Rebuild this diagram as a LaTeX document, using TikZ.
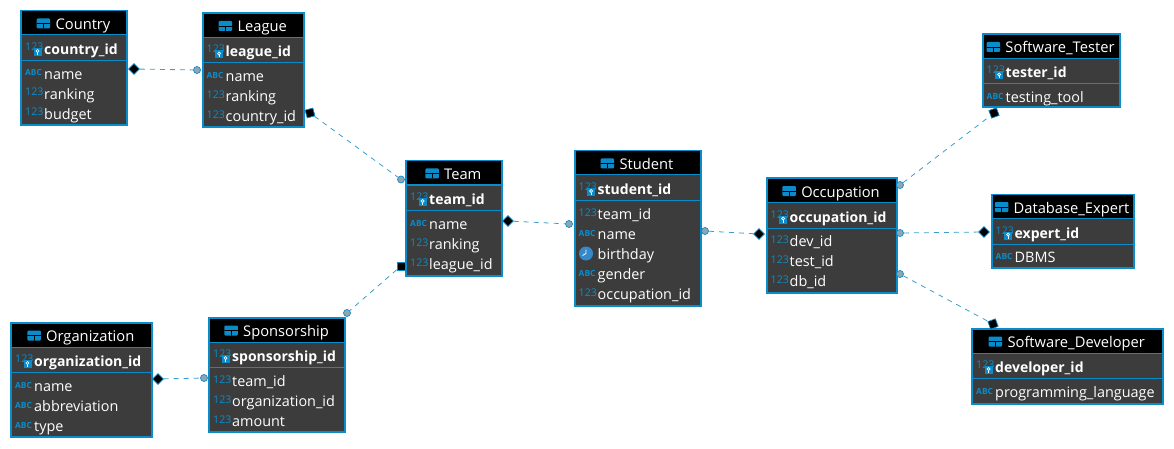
\documentclass[tikz,border=0pt]{standalone}
\usepackage{fontspec}
\setmainfont{Open Sans}
\usetikzlibrary{positioning,shapes.geometric}
\definecolor{erblue}{HTML}{0A8CCB}
\definecolor{erline}{HTML}{3A9FC8}
\definecolor{erbody}{HTML}{3C3C3C}
\definecolor{erdot}{HTML}{8FA5B0}
\definecolor{erclock}{HTML}{3589C9}
\tikzset{
    tablebox/.style={rectangle, draw=erblue, line width=2pt, fill=erbody, inner sep=0pt},
    headbox/.style={rectangle, fill=black, inner sep=0pt},
    title/.style={inner sep=0pt, text=white, font=\fontsize{14.7}{16}\selectfont, text height=12pt, text depth=0pt, anchor=base},
    tableicon/.style={rectangle, rounded corners=1pt, fill=erblue, minimum width=13.5pt, minimum height=10pt, inner sep=0pt,
        path picture={
            \draw[black, line width=.8pt] (path picture bounding box.west) -- (path picture bounding box.east);
            \draw[black, line width=.8pt] (path picture bounding box.center) -- (path picture bounding box.south);
        }},
    keytext/.style={inner sep=0pt, anchor=base west, text=white, font=\fontsize{14}{16}\selectfont\bfseries},
    rowtext/.style={inner sep=0pt, anchor=base west, text=white, font=\fontsize{14.4}{16}\selectfont},
    icontext/.style={inner sep=0pt, anchor=base west, text=erblue},
    keybadge/.style={rectangle, fill=erblue, minimum width=8pt, minimum height=8pt, inner sep=0pt,
        path picture={
            \draw[white, line width=.7pt] ([yshift=1pt]path picture bounding box.center) circle (1.5pt);
            \draw[white, line width=.7pt] ([yshift=-.5pt]path picture bounding box.center) -- ([yshift=-3pt]path picture bounding box.center);
        }},
    divider/.style={erblue, line width=1pt},
    link/.style={erline, line width=.8pt, dash pattern=on 5pt off 5pt},
    enddot/.style={circle, draw=erblue, fill=erdot, line width=.7pt, minimum size=7pt, inner sep=0pt},
    enddiamond/.style={diamond, draw=erblue, fill=black, line width=.7pt, minimum size=11pt, inner sep=0pt},
    endsquare/.style={rectangle, draw=erblue, fill=black, line width=.7pt, minimum size=8pt, inner sep=0pt},
}
\newcommand{\numicon}{\fontsize{10.6}{12}\selectfont 123}
\newcommand{\abcicon}{\fontsize{8.4}{12}\selectfont\bfseries ABC}
\newcommand{\clockicon}{}
% table: name, title, x, y, width, height, key text, rows
\newcommand{\ertable}[8]{
    \node (#1) at ({#3+#5/2},{#4+#6/2}) [tablebox, minimum width=#5pt, minimum height=#6pt] {};
    \node (#1head) at ({#3+#5/2},{#4+12}) [headbox, minimum width={#5*1pt-2pt}, minimum height=23pt] {};
    \draw[divider] (#3,#4+24) -- (#3+#5,#4+24);
    \node (#1title) at ({#3+#5/2+9},{#4+18.5}) [title] {#2};
    \node (#1icon) [tableicon, left=5pt of #1title] {};
    \draw[divider] (#3,#4+49.5) -- (#3+#5,#4+49.5);
    \node (#1keynum) at (#3+4,#4+39.5) [icontext] {\numicon};
    \node (#1badge) at (#3+16.5,#4+41) [keybadge] {};
    \node (#1key) at (#3+23,#4+43.5) [keytext] {#7};
    \foreach \kind/\txt [count=\i] in {#8} {
        \node (#1icon\i) at (#3+4,{#4+45+20*\i}) [icontext] {\kind};
        \node (#1row\i) at (#3+23,{#4+48.2+20*\i}) [rowtext] {\txt};
    }
}
\begin{document}
\begin{tikzpicture}[x=1pt, y=-1pt]
    \useasboundingbox (0,0) rectangle (1174,449);

    \ertable{country}{Country}{21}{11}{106}{114.5}{country\_id}{\abcicon/name, \numicon/ranking, \numicon/budget}
    \ertable{league}{League}{202.5}{13.5}{101.5}{114}{league\_id}{\abcicon/name, \numicon/ranking, \numicon/country\_id}
    \ertable{team}{Team}{406}{161}{95.5}{114.5}{team\_id}{\abcicon/name, \numicon/ranking, \numicon/league\_id}
    \ertable{student}{Student}{574.5}{151}{126}{155}{student\_id}{\numicon/team\_id, \abcicon/name, \clockicon/birthday, \abcicon/gender, \numicon/occupation\_id}
    \ertable{occupation}{Occupation}{766.5}{178.5}{130}{114}{occupation\_id}{\numicon/dev\_id, \numicon/test\_id, \numicon/db\_id}
    \ertable{tester}{Software\_Tester}{982.5}{34.5}{137}{72.5}{tester\_id}{\abcicon/testing\_tool}
    \ertable{expert}{Database\_Expert}{991.5}{194.5}{142}{73}{expert\_id}{\abcicon/DBMS}
    \ertable{developer}{Software\_Developer}{972}{329}{190.5}{74.5}{developer\_id}{\abcicon/programming\_language}
    \ertable{organization}{Organization}{11}{323}{140.5}{114}{organization\_id}{\abcicon/name, \abcicon/abbreviation, \abcicon/type}
    \ertable{sponsorship}{Sponsorship}{209}{318}{136}{114}{sponsorship\_id}{\numicon/team\_id, \numicon/organization\_id, \numicon/amount}

    \node (clock) at (586,253.5) [circle, fill=erclock, minimum size=14pt, inner sep=0pt] {};
    \draw[white, line width=.8pt] (clock.center) -- ++(0,-4) (clock.center) -- ++(-3.5,2);

    \node (e1) at (134,69) [enddiamond] {};
    \node (e2) at (197,70) [enddot] {};
    \node (e3) at (310,113) [endsquare, rotate=15] {};
    \node (e4) at (401,179.5) [enddot] {};
    \node (e5) at (508,221) [enddiamond] {};
    \node (e6) at (569,224) [enddot] {};
    \node (e7) at (401,266) [endsquare] {};
    \node (e8) at (347,313) [enddot] {};
    \node (e9) at (158,379) [enddiamond] {};
    \node (e10) at (204,378) [enddot] {};
    \node (e11) at (705,231) [enddot] {};
    \node (e12) at (759,234) [enddiamond] {};
    \node (e13) at (900,185) [enddot] {};
    \node (e14) at (994,113) [endsquare, rotate=20] {};
    \node (e15) at (900,233) [enddot] {};
    \node (e16) at (984,232) [enddiamond] {};
    \node (e17) at (900,274) [enddot] {};
    \node (e18) at (993,324) [endsquare, rotate=20] {};

    \draw[link] (e1) to (e2);
    \draw[link] (e3) to (e4);
    \draw[link] (e5) to (e6);
    \draw[link] (e7) to (e8);
    \draw[link] (e9) to (e10);
    \draw[link] (e11) to (e12);
    \draw[link] (e13) to (e14);
    \draw[link] (e15) to (e16);
    \draw[link] (e17) to (e18);
\end{tikzpicture}
\end{document}
